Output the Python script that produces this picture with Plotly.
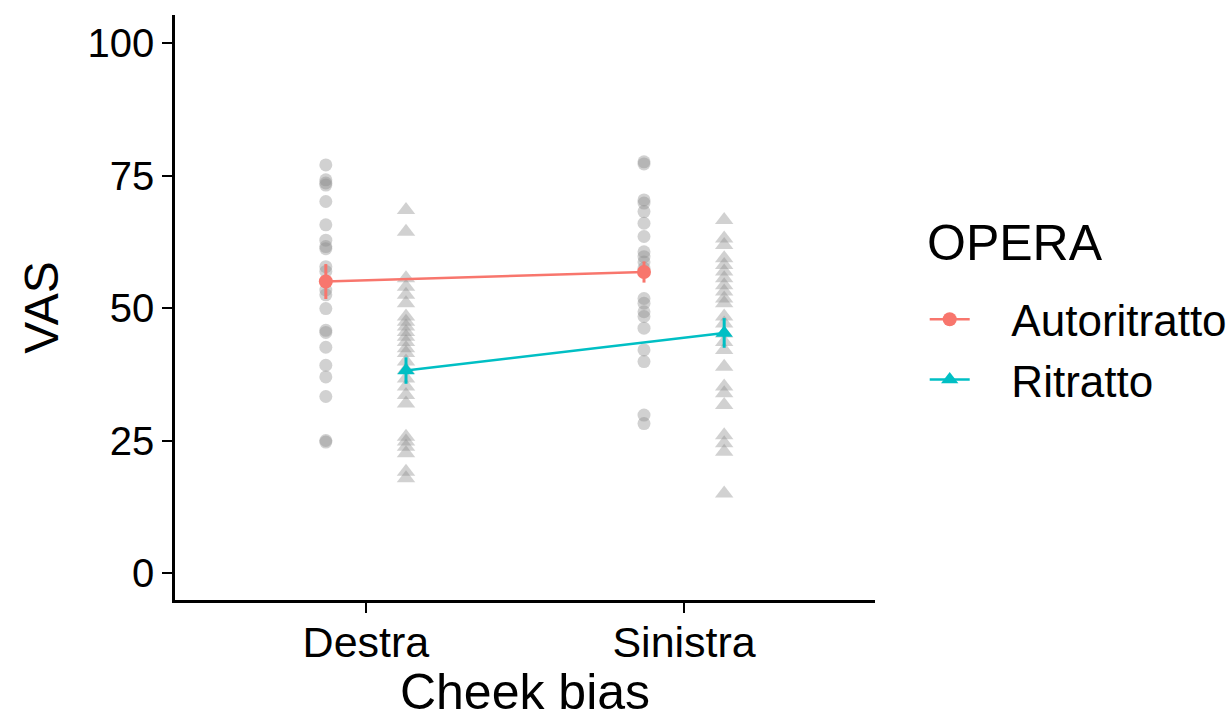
import plotly.graph_objects as go

# Categories and groups
cheek_bias = ["Destra", "Sinistra"]
opera = ["Autoritratto", "Ritratto"]

# Individual VAS ratings
destra_autoritratto = [77.0, 74.2, 73.6, 73.2, 70.1, 65.7, 62.8, 61.6, 61.2, 57.8, 56.9,
                       53.4, 52.5, 49.9, 45.8, 45.4, 42.6, 39.2, 37.0, 33.3, 25.0, 24.7]
destra_ritratto = [68.5, 64.4, 55.6, 54.0, 52.5, 50.9, 48.4, 47.4, 46.5, 45.5, 44.6, 43.6,
                   42.4, 41.5, 39.9, 38.3, 36.7, 35.2, 33.6, 32.0, 25.7, 24.8, 23.8, 22.6,
                   19.1, 17.9]
sinistra_autoritratto = [77.6, 77.2, 70.4, 69.8, 68.2, 66.0, 63.5, 60.6, 59.7, 58.7, 57.5,
                         51.8, 50.9, 49.3, 48.4, 46.2, 42.1, 39.9, 29.8, 28.2]
sinistra_ritratto = [66.6, 63.1, 61.9, 59.4, 58.1, 56.9, 55.6, 54.3, 53.1, 51.8, 50.9, 48.4,
                     47.1, 45.2, 43.6, 42.1, 38.9, 35.2, 33.9, 31.7, 26.0, 24.5, 22.9, 15.0]

# Group means and standard errors (Destra, Sinistra)
mean_autoritratto = [55.0, 56.8]
se_autoritratto = [3.3, 2.0]
mean_ritratto = [38.2, 45.3]
se_ritratto = [2.5, 2.8]

colors = {"Autoritratto": "#F8766D", "Ritratto": "#00BFC4"}
symbols = {"Autoritratto": "circle", "Ritratto": "triangle-up"}
dodge = {"Autoritratto": -0.126, "Ritratto": 0.126}
raw = {
    "Autoritratto": [destra_autoritratto, sinistra_autoritratto],
    "Ritratto": [destra_ritratto, sinistra_ritratto],
}
means = {"Autoritratto": mean_autoritratto, "Ritratto": mean_ritratto}
ses = {"Autoritratto": se_autoritratto, "Ritratto": se_ritratto}

FONT = "Liberation Sans, Arial, sans-serif"
NBSP = "\u00a0"
fig = go.Figure()

# raw points
for g in opera:
    for i, vals in enumerate(raw[g]):
        xpos = i + 1 + dodge[g]
        fig.add_trace(go.Scatter(
            x=[xpos] * len(vals), y=vals, mode="markers", showlegend=False,
            hoverinfo="skip",
            marker=dict(symbol=symbols[g], size=13 if g == "Autoritratto" else 16,
                        color="rgba(140,140,140,0.4)", line=dict(width=0)),
        ))

# means with standard error bars
for g in opera:
    xs = [i + 1 + dodge[g] for i in range(len(cheek_bias))]
    fig.add_trace(go.Scatter(
        x=xs, y=means[g], mode="lines+markers", name=NBSP * 3 + g,
        line=dict(color=colors[g], width=2.5),
        marker=dict(symbol=symbols[g], size=14 if g == "Autoritratto" else 15,
                    color=colors[g]),
        error_y=dict(type="data", array=ses[g], color=colors[g], thickness=3, width=0),
    ))

fig.add_annotation(
    text="OPERA", xref="paper", yref="paper", x=1.071, y=0.610,
    xanchor="left", yanchor="middle", showarrow=False,
    font=dict(size=50, family=FONT, color="black"),
)

fig.update_layout(
    width=1231, height=720,
    margin=dict(l=175, r=356, t=15, b=120, autoexpand=False),
    paper_bgcolor="white", plot_bgcolor="white",
    font=dict(family=FONT, color="black"),
    xaxis=dict(
        range=[0.4, 2.6], tickvals=[1, 2], ticktext=cheek_bias, automargin=False,
        showline=True, linecolor="black", linewidth=2.5,
        ticks="outside", ticklen=10, tickwidth=2, tickcolor="black",
        ticklabelstandoff=-7,
        tickfont=dict(size=43), showgrid=False, zeroline=False,
        title=dict(text="Cheek bias", font=dict(size=50), standoff=10),
    ),
    yaxis=dict(
        range=[-5.1, 105.3], tickvals=[0, 25, 50, 75, 100], automargin=False,
        showline=True, linecolor="black", linewidth=2.5,
        ticks="outside", ticklen=10, tickwidth=2, tickcolor="black",
        tickfont=dict(size=40), showgrid=False, zeroline=False,
        title=dict(text="VAS", font=dict(size=48), standoff=14),
    ),
    legend=dict(
        x=1.071, xanchor="left", y=0.54, yanchor="top",
        font=dict(size=44), bgcolor="rgba(0,0,0,0)", itemwidth=40,
        tracegroupgap=4,
    ),
)

fig.write_html("out.html")
